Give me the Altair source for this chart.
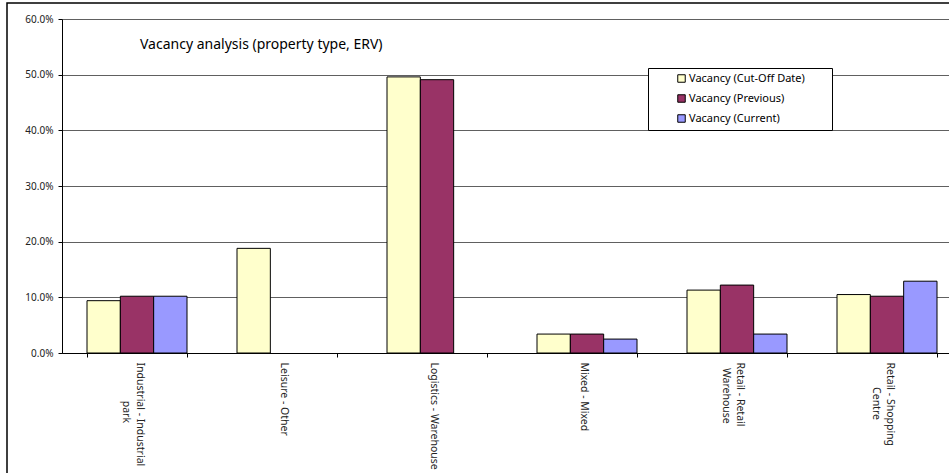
import altair as alt
import pandas as pd

# Property types (a "\n" marks a line break in the axis label)
categories = [
    "Industrial - Industrial\npark",
    "Leisure - Other",
    "Logistics - Warehouse",
    "Mixed - Mixed",
    "Retail - Retail\nWarehouse",
    "Retail - Shopping\nCentre",
]
series = ["Vacancy (Cut-Off Date)", "Vacancy (Previous)", "Vacancy (Current)"]

# Vacancy rates by ERV (None = no bar)
cutoff = [0.094, 0.188, 0.496, 0.034, 0.113, 0.105]
previous = [0.102, None, 0.491, 0.034, 0.122, 0.102]
current = [0.102, None, None, 0.025, 0.034, 0.129]

colors = ["#FFFFCC", "#993366", "#9999FF"]
y_ticks = [0.0, 0.1, 0.2, 0.3, 0.4, 0.5, 0.6]
title_text = "Vacancy analysis (property type, ERV)"

FONT = "Noto Sans"
LABEL_SIZE = 10.5
NBSP = "\u00a0"
ZWSP = "\u200b"  # keeps the leading spaces from being trimmed


def text_width(s, size=LABEL_SIZE):
    """Rough rendered width of a string in Noto Sans."""
    w = 0.0
    for ch in s:
        if ch in " -ilIjtrf.,()":
            w += 0.28
        elif ch in "WMmw":
            w += 0.86
        elif ch.isupper():
            w += 0.64
        else:
            w += 0.55
    return w * size


def centred(label):
    """Indent the second line so both lines of a label are centred."""
    lines = label.split("\n")
    if len(lines) == 1:
        return label
    gap = (text_width(lines[0]) - text_width(lines[1])) / 2
    n = max(0, round(gap / (0.26 * LABEL_SIZE)))
    return lines[0] + "\n" + ZWSP + NBSP * n + lines[1]


axis_labels = [centred(c) for c in categories]

rows = []
for name, vals in zip(series, [cutoff, previous, current]):
    for lab, v in zip(axis_labels, vals):
        if v is not None:
            rows.append({"category": lab, "series": name, "value": v})
df = pd.DataFrame(rows)

TWO_LINES = "isString(datum.value) && indexof(datum.value, '\\n') >= 0"

bars = alt.Chart(df).mark_bar(stroke="black", strokeWidth=1).encode(
    x=alt.X(
        "category:N",
        sort=axis_labels,
        scale=alt.Scale(range=[0, 900], paddingInner=1 / 3, paddingOuter=1 / 6),
        axis=alt.Axis(
            title=None,
            labelAngle=90,
            labelAlign="left",
            labelBaseline="middle",
            labelExpr="isString(datum.value) ? split(datum.value, '\\n') : ''",
            labelLineHeight=14,
            labelOffset={"condition": {"test": TWO_LINES, "value": 2}, "value": -4},
            tickBand="extent",
            tickSize=4,
            labelPadding=5,
            domainColor="black",
            tickColor="black",
            labelFont=FONT,
            labelFontSize=LABEL_SIZE,
            labelColor="#222222",
            labelLimit=200,
            grid=False,
        ),
    ),
    xOffset=alt.XOffset(
        "series:N", sort=series, scale=alt.Scale(domain=series, paddingInner=0, paddingOuter=0)
    ),
    y=alt.Y(
        "value:Q",
        scale=alt.Scale(domain=[0, 0.6], nice=False),
        axis=alt.Axis(
            title=None,
            format=".1%",
            values=y_ticks,
            grid=True,
            gridColor="#606060",
            gridWidth=1,
            domainColor="black",
            tickColor="black",
            tickSize=4,
            labelPadding=5,
            labelFont=FONT,
            labelFontSize=10,
            labelColor="#222222",
        ),
    ),
    color=alt.Color(
        "series:N",
        sort=series,
        scale=alt.Scale(domain=series, range=colors),
        legend=alt.Legend(
            # blank title on the right keeps some white space in the box
            title="Vac",
            titleOrient="right",
            titleColor="white",
            titleFontSize=11,
            titlePadding=3,
            orient="none",
            legendX=586,
            legendY=49,
            fillColor="white",
            strokeColor="black",
            padding=5,
            rowPadding=7,
            symbolType="square",
            symbolSize=56,
            symbolStrokeColor="black",
            symbolStrokeWidth=1,
            symbolOffset=23,
            labelOffset=2,
            labelFont=FONT,
            labelFontSize=11,
            labelColor="black",
        ),
    ),
)

# Chart heading drawn inside the plot area
heading = alt.Chart(alt.Data(values=[{"t": title_text}])).mark_text(
    align="left", baseline="middle", font=FONT, fontSize=14, color="black"
).encode(text="t:N", x=alt.value(78), y=alt.value(26))

# Outer chart border
frame = alt.Chart(alt.Data(values=[{}])).mark_rect(
    fillOpacity=0, stroke="black", strokeWidth=1.5
).encode(
    x=alt.value(-55), y=alt.value(-16), x2=alt.value(1200), y2=alt.value(800)
)

chart = (
    alt.layer(bars, heading, frame)
    .properties(
        width=887,
        height=334,
        autosize="none",
        padding={"left": 62, "top": 19, "right": 0, "bottom": 120},
    )
    .configure_view(stroke=None)
    .configure(background="white")
)

chart.save("out.html", embed_options={"renderer": "svg", "actions": False})
